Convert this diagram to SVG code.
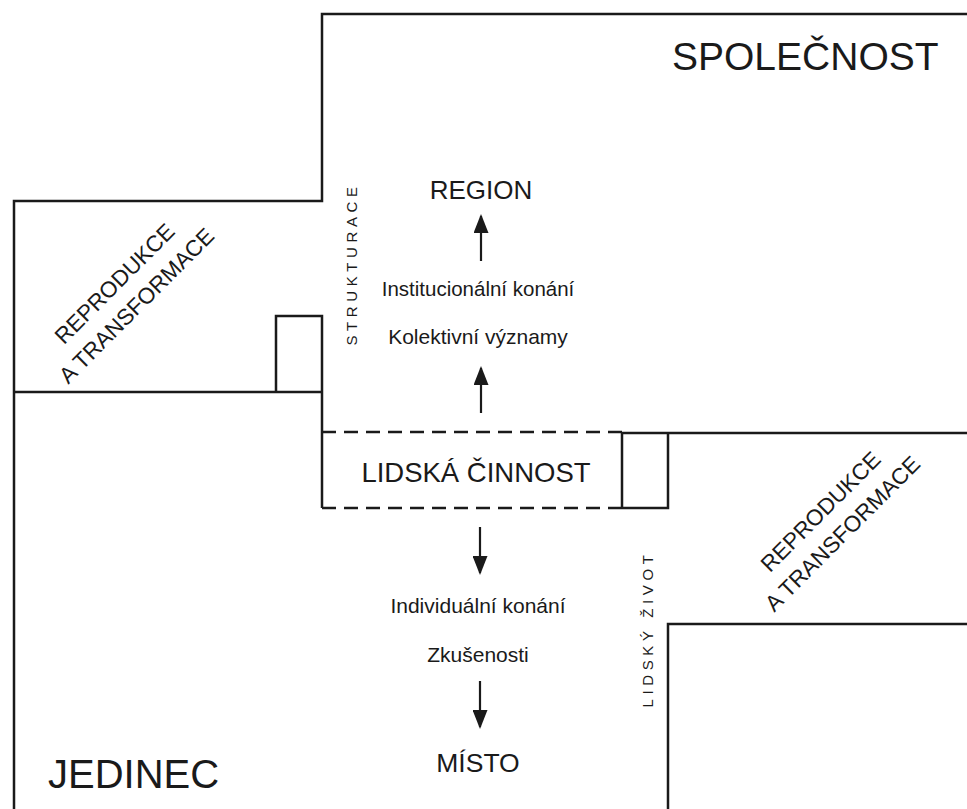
<svg xmlns="http://www.w3.org/2000/svg" width="967" height="809" viewBox="0 0 967 809">
<style>
.b{fill:none;stroke:#1a1a1a;stroke-width:2.5}
.d{fill:none;stroke:#1a1a1a;stroke-width:2.5;stroke-dasharray:14 8}
.t{font-family:"Liberation Sans",Arial,sans-serif;fill:#1a1a1a}
.a{stroke:#1a1a1a;stroke-width:2.2;fill:none}
</style>
<defs>
<marker id="ah" viewBox="0 0 19 15" refX="17" refY="7.5" markerWidth="19" markerHeight="15" markerUnits="userSpaceOnUse" orient="auto">
<path d="M0,0 L19,7.5 L0,15 Z" fill="#1a1a1a"/>
</marker>
</defs>
<rect width="967" height="809" fill="#fff"/>
<g id="spolecnost">
<path class="b" d="M967,14 H322 V201 H14 V809"/>
<text class="t" x="672" y="70" font-size="39">SPOLEČNOST</text>
</g>
<g id="reprodukce-left">
<path class="b" d="M14,392 H322 M276,392 V316 H322 V508"/>
<g transform="rotate(-45 125 294)">
<text class="t" x="125" y="287" font-size="22.5" text-anchor="middle">REPRODUKCE</text>
<text class="t" x="125" y="318" font-size="22.5" text-anchor="middle">A TRANSFORMACE</text>
</g>
</g>
<g id="lidska-cinnost">
<path class="d" d="M322,432 H622 M322,508 H622"/>
<path class="b" d="M622,508 V433 H967 M668,433 V508 H622"/>
<text class="t" x="476" y="482" font-size="27.5" text-anchor="middle">LIDSKÁ ČINNOST</text>
</g>
<g id="reprodukce-right">
<path class="b" d="M967,624 H668 V809"/>
<g transform="rotate(-45 831 522)">
<text class="t" x="831" y="515" font-size="22.5" text-anchor="middle">REPRODUKCE</text>
<text class="t" x="831" y="546" font-size="22.5" text-anchor="middle">A TRANSFORMACE</text>
</g>
</g>
<g id="region">
<text class="t" x="481" y="199" font-size="26" text-anchor="middle">REGION</text>
</g>
<g id="labels-up">
<text class="t" x="478" y="296" font-size="20.5" text-anchor="middle">Institucionální konání</text>
<text class="t" x="478" y="344" font-size="21" text-anchor="middle">Kolektivní významy</text>
</g>
<g id="labels-down">
<text class="t" x="478" y="613" font-size="21" text-anchor="middle">Individuální konání</text>
<text class="t" x="478" y="662" font-size="21" text-anchor="middle">Zkušenosti</text>
</g>
<g id="misto">
<text class="t" x="478" y="772" font-size="26.5" text-anchor="middle">MÍSTO</text>
</g>
<g id="jedinec">
<text class="t" x="48" y="788" font-size="40">JEDINEC</text>
</g>
<g id="side-labels">
<text class="t" transform="translate(357 264) rotate(-90)" font-size="15" letter-spacing="4.6" text-anchor="middle">STRUKTURACE</text>
<text class="t" transform="translate(653 629) rotate(-90)" font-size="15" letter-spacing="4.6" text-anchor="middle">LIDSKÝ ŽIVOT</text>
</g>
<g id="connectors">
<line class="a" x1="481" y1="261" x2="481" y2="216" marker-end="url(#ah)"/>
<line class="a" x1="481" y1="413" x2="481" y2="368" marker-end="url(#ah)"/>
<line class="a" x1="480" y1="527" x2="480" y2="573" marker-end="url(#ah)"/>
<line class="a" x1="480" y1="681" x2="480" y2="727" marker-end="url(#ah)"/>
</g>
</svg>
